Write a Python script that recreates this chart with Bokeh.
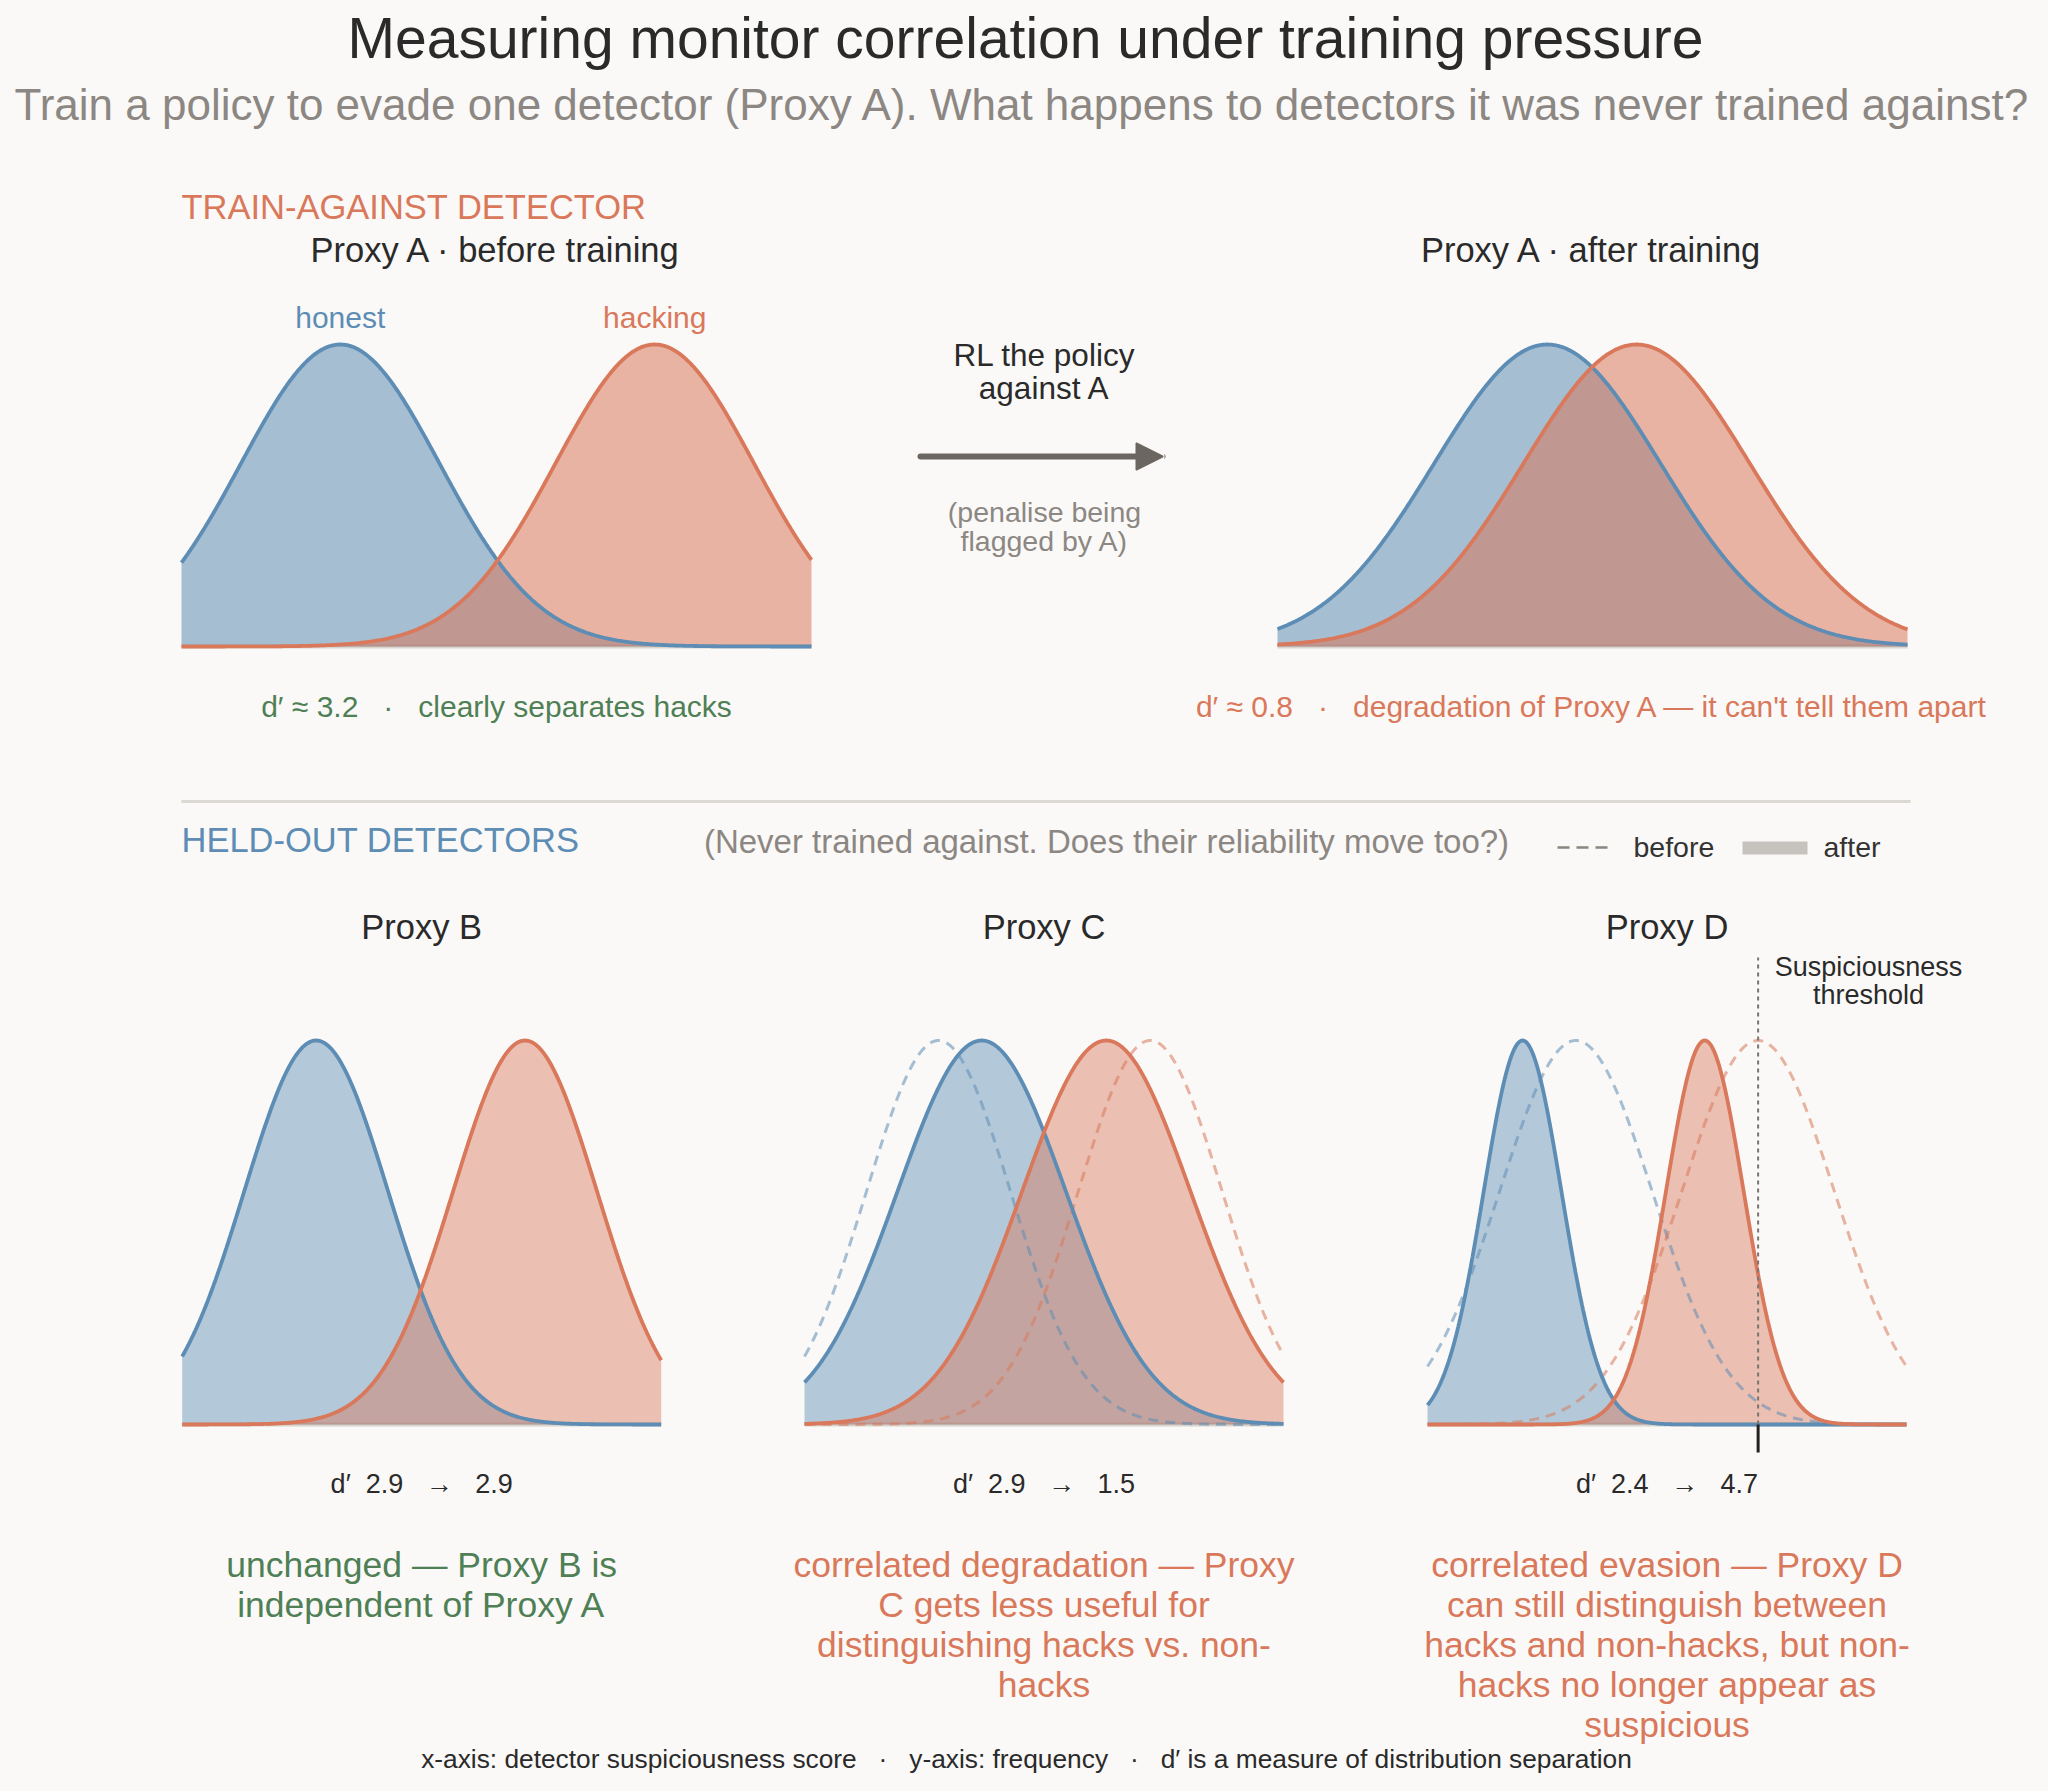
import numpy as np
from bokeh.plotting import figure
from bokeh.models import Range1d, Arrow, NormalHead
from bokeh.core.properties import value
from bokeh.embed import file_html
from bokeh.resources import INLINE

# ---------------- data ----------------
top_titles = ["Proxy A \u00b7 before training", "Proxy A \u00b7 after training"]
top_honest_mean = [0.0, 1.12]
top_hack_mean = [3.17, 2.02]
top_sd = [1.0, 1.14]
top_dprime = ["3.2", "0.8"]
top_notes = ["clearly separates hacks", "degradation of Proxy A \u2014 it can't tell them apart"]
top_x_domain = [-1.6, 4.75]

bottom_titles = ["Proxy B", "Proxy C", "Proxy D"]
before_honest_mean = [0.0, 0.0, 0.2]
before_hack_mean = [2.9, 2.94, 2.73]
before_sd = [1.0, 1.0, 1.06]
after_honest_mean = [0.0, 0.6, -0.54]
after_hack_mean = [2.9, 2.33, 1.99]
after_sd = [1.0, 1.17, 0.54]
dprime_before = ["2.9", "2.9", "2.4"]
dprime_after = ["2.9", "1.5", "4.7"]
threshold_D = 2.73
bottom_x_domain = [-1.86, 4.79]

bottom_notes = [
    ["unchanged \u2014 Proxy B is", "independent of Proxy A"],
    ["correlated degradation \u2014 Proxy", "C gets less useful for",
     "distinguishing hacks vs. non-", "hacks"],
    ["correlated evasion \u2014 Proxy D", "can still distinguish between",
     "hacks and non-hacks, but non-", "hacks no longer appear as", "suspicious"],
]
bottom_note_kind = ["good", "bad", "bad"]

# ---------------- style ----------------
BG = "#faf9f7"
BLUE = "#5d8db4"
ORANGE = "#d9785a"
GREEN = "#4f7f55"
DARK = "#2a2a2a"
GRAY = "#8c8782"
FONT = value("Liberation Sans")
BASE_SHIFT = 0.35  # em, compensation for rendered alphabetic baseline

W, H = 2032, 1775
p = figure(width=W, height=H, x_range=Range1d(0, W), y_range=Range1d(H, 0),
           output_backend="svg", toolbar_location=None, min_border=0,
           x_axis_location=None, y_axis_location=None,
           background_fill_color=BG, border_fill_color=BG, outline_line_color=None)
p.xgrid.visible = False
p.ygrid.visible = False

try:
    from bokeh.models import GlobalInlineStyleSheet
    p.stylesheets = [GlobalInlineStyleSheet(css=f"body {{ margin: 0; background: {BG}; }}")]
except Exception:
    pass


def txt(x, y, s, size, color, align="center"):
    p.text(x=[x], y=[y - BASE_SHIFT * size], text=[s], text_font=FONT,
           text_font_size=value(f"{size}px"), text_color=color, text_align=align,
           text_baseline="alphabetic")


PANELS = {}


def panel(name, L, R, T, B, dom):
    a, b = dom
    sx = (b - a) / (R - L)
    p.extra_x_ranges[name] = Range1d(a + (0 - L) * sx, a + (W - L) * sx)
    sy = 1.0 / (B - T)
    p.extra_y_ranges[name] = Range1d((B - H) * sy, (B - 0) * sy)
    PANELS[name] = (T, B)
    return dict(x_range_name=name, y_range_name=name)


def py(name, pix):
    T, B = PANELS[name]
    return (B - pix) / (B - T)


def gauss(x, m, s):
    return np.exp(-0.5 * ((x - m) / s) ** 2)


def baseline(r, dom):
    p.segment(x0=[dom[0]], x1=[dom[1]], y0=[0], y1=[0], line_color="#d8d4ce",
              line_width=4, **r)


NB = "\u00a0"

# ---------------- titles ----------------
txt(1025, 57, "Measuring monitor correlation under training pressure", 57, DARK)
txt(1022, 119, "Train a policy to evade one detector (Proxy A). What happens to detectors it was never trained against?", 44, GRAY)

txt(181, 219, "TRAIN-AGAINST DETECTOR", 34.5, ORANGE, align="left")

# ---------------- top panels ----------------
top_L = [181, 1277]
for i in range(2):
    L = top_L[i]
    R = L + 630
    name = f"top{i}"
    r = panel(name, L, R, 344, 646, top_x_domain)
    xs = np.linspace(top_x_domain[0], top_x_domain[1], 500)
    yh = gauss(xs, top_honest_mean[i], top_sd[i])
    yk = gauss(xs, top_hack_mean[i], top_sd[i])
    baseline(r, top_x_domain)
    p.varea(x=xs, y1=0, y2=yh, fill_color=BLUE, fill_alpha=0.54, **r)
    p.varea(x=xs, y1=0, y2=yk, fill_color=ORANGE, fill_alpha=0.54, **r)
    p.line(xs, yh, line_color=BLUE, line_width=3.8, **r)
    p.line(xs, yk, line_color=ORANGE, line_width=3.8, **r)
    cx = (L + R) / 2
    txt(cx, 262, top_titles[i], 34.5, DARK)
    col = GREEN if i == 0 else ORANGE
    txt(cx, 716, f"d\u2032 \u2248 {top_dprime[i]}{NB*3}\u00b7{NB*3}{top_notes[i]}", 30, col)
    if i == 0:
        ly = py(name, 327 - BASE_SHIFT * 30)
        for m, lab, c in [(top_honest_mean[i], "honest", BLUE), (top_hack_mean[i], "hacking", ORANGE)]:
            p.text(x=[m], y=[ly], text=[lab], text_font=FONT,
                   text_font_size=value("30px"), text_color=c, text_align="center",
                   text_baseline="alphabetic", **r)

# arrow between top panels
p.add_layout(Arrow(end=NormalHead(size=26, fill_color="#6b6661", line_color="#6b6661",
                                  line_join="round", line_width=2),
                   x_start=920, y_start=456, x_end=1162, y_end=456,
                   line_color="#6b6661", line_width=6, line_cap="round"))
txt(1044, 366, "RL the policy", 31.5, DARK)
txt(1044, 399, "against A", 31.5, DARK)
txt(1044, 521, "(penalise being", 28.5, GRAY)
txt(1044, 550, "flagged by A)", 28.5, GRAY)

# divider
p.segment(x0=[181], x1=[1910], y0=[801], y1=[801], line_color="#dcd8d2", line_width=3)

txt(181, 852, "HELD-OUT DETECTORS", 34.5, BLUE, align="left")
txt(1106, 853, "(Never trained against. Does their reliability move too?)", 33, GRAY)

# legend
p.segment(x0=[1557], x1=[1607], y0=[847], y1=[847], line_color="#8b8680", line_width=2.5,
          line_dash="12 7")
txt(1633, 856, "before", 28.5, "#333333", align="left")
p.quad(left=[1742], right=[1807], top=[841], bottom=[854], fill_color="#c6c3bf",
       line_color=None)
txt(1823, 856, "after", 28.5, "#333333", align="left")

# ---------------- bottom panels ----------------
bot_L = [181.7, 804, 1427]
for i in range(3):
    L = bot_L[i]
    R = L + 479
    name = f"bot{i}"
    r = panel(name, L, R, 1040, 1424, bottom_x_domain)
    xs = np.linspace(bottom_x_domain[0], bottom_x_domain[1], 500)
    bh = gauss(xs, before_honest_mean[i], before_sd[i])
    bk = gauss(xs, before_hack_mean[i], before_sd[i])
    ah = gauss(xs, after_honest_mean[i], after_sd[i])
    ak = gauss(xs, after_hack_mean[i], after_sd[i])
    baseline(r, bottom_x_domain)
    p.varea(x=xs, y1=0, y2=ah, fill_color=BLUE, fill_alpha=0.45, **r)
    p.varea(x=xs, y1=0, y2=ak, fill_color=ORANGE, fill_alpha=0.45, **r)
    p.line(xs, bh, line_color=BLUE, line_alpha=0.55, line_width=3, line_dash="10 7", **r)
    p.line(xs, bk, line_color=ORANGE, line_alpha=0.55, line_width=3, line_dash="10 7", **r)
    p.line(xs, ah, line_color=BLUE, line_width=3.8, **r)
    p.line(xs, ak, line_color=ORANGE, line_width=3.8, **r)
    cx = (L + R) / 2
    txt(cx, 939, bottom_titles[i], 34.5, DARK)
    txt(cx, 1493, f"d\u2032{NB*2}{dprime_before[i]}{NB*3}\u2192{NB*3}{dprime_after[i]}", 27, DARK)
    col = GREEN if bottom_note_kind[i] == "good" else ORANGE
    for j, line in enumerate(bottom_notes[i]):
        txt(cx, 1577 + 40 * j, line, 35.5, col)
    if i == 2:
        p.segment(x0=[threshold_D], x1=[threshold_D], y0=[0], y1=[py(name, 957)],
                  line_color="#7a7570", line_width=2, line_dash="4 4", **r)
        p.segment(x0=[threshold_D], x1=[threshold_D], y0=[0], y1=[py(name, 1452)],
                  line_color="#222222", line_width=3, **r)

txt(1868, 976, "Suspiciousness", 27, DARK)
txt(1868, 1004, "threshold", 27, DARK)

txt(1026, 1768, f"x-axis: detector suspiciousness score{NB*3}\u00b7{NB*3}y-axis: frequency{NB*3}\u00b7{NB*3}d\u2032 is a measure of distribution separation", 26.3, DARK)

open("out.html", "w").write(file_html(p, INLINE))
